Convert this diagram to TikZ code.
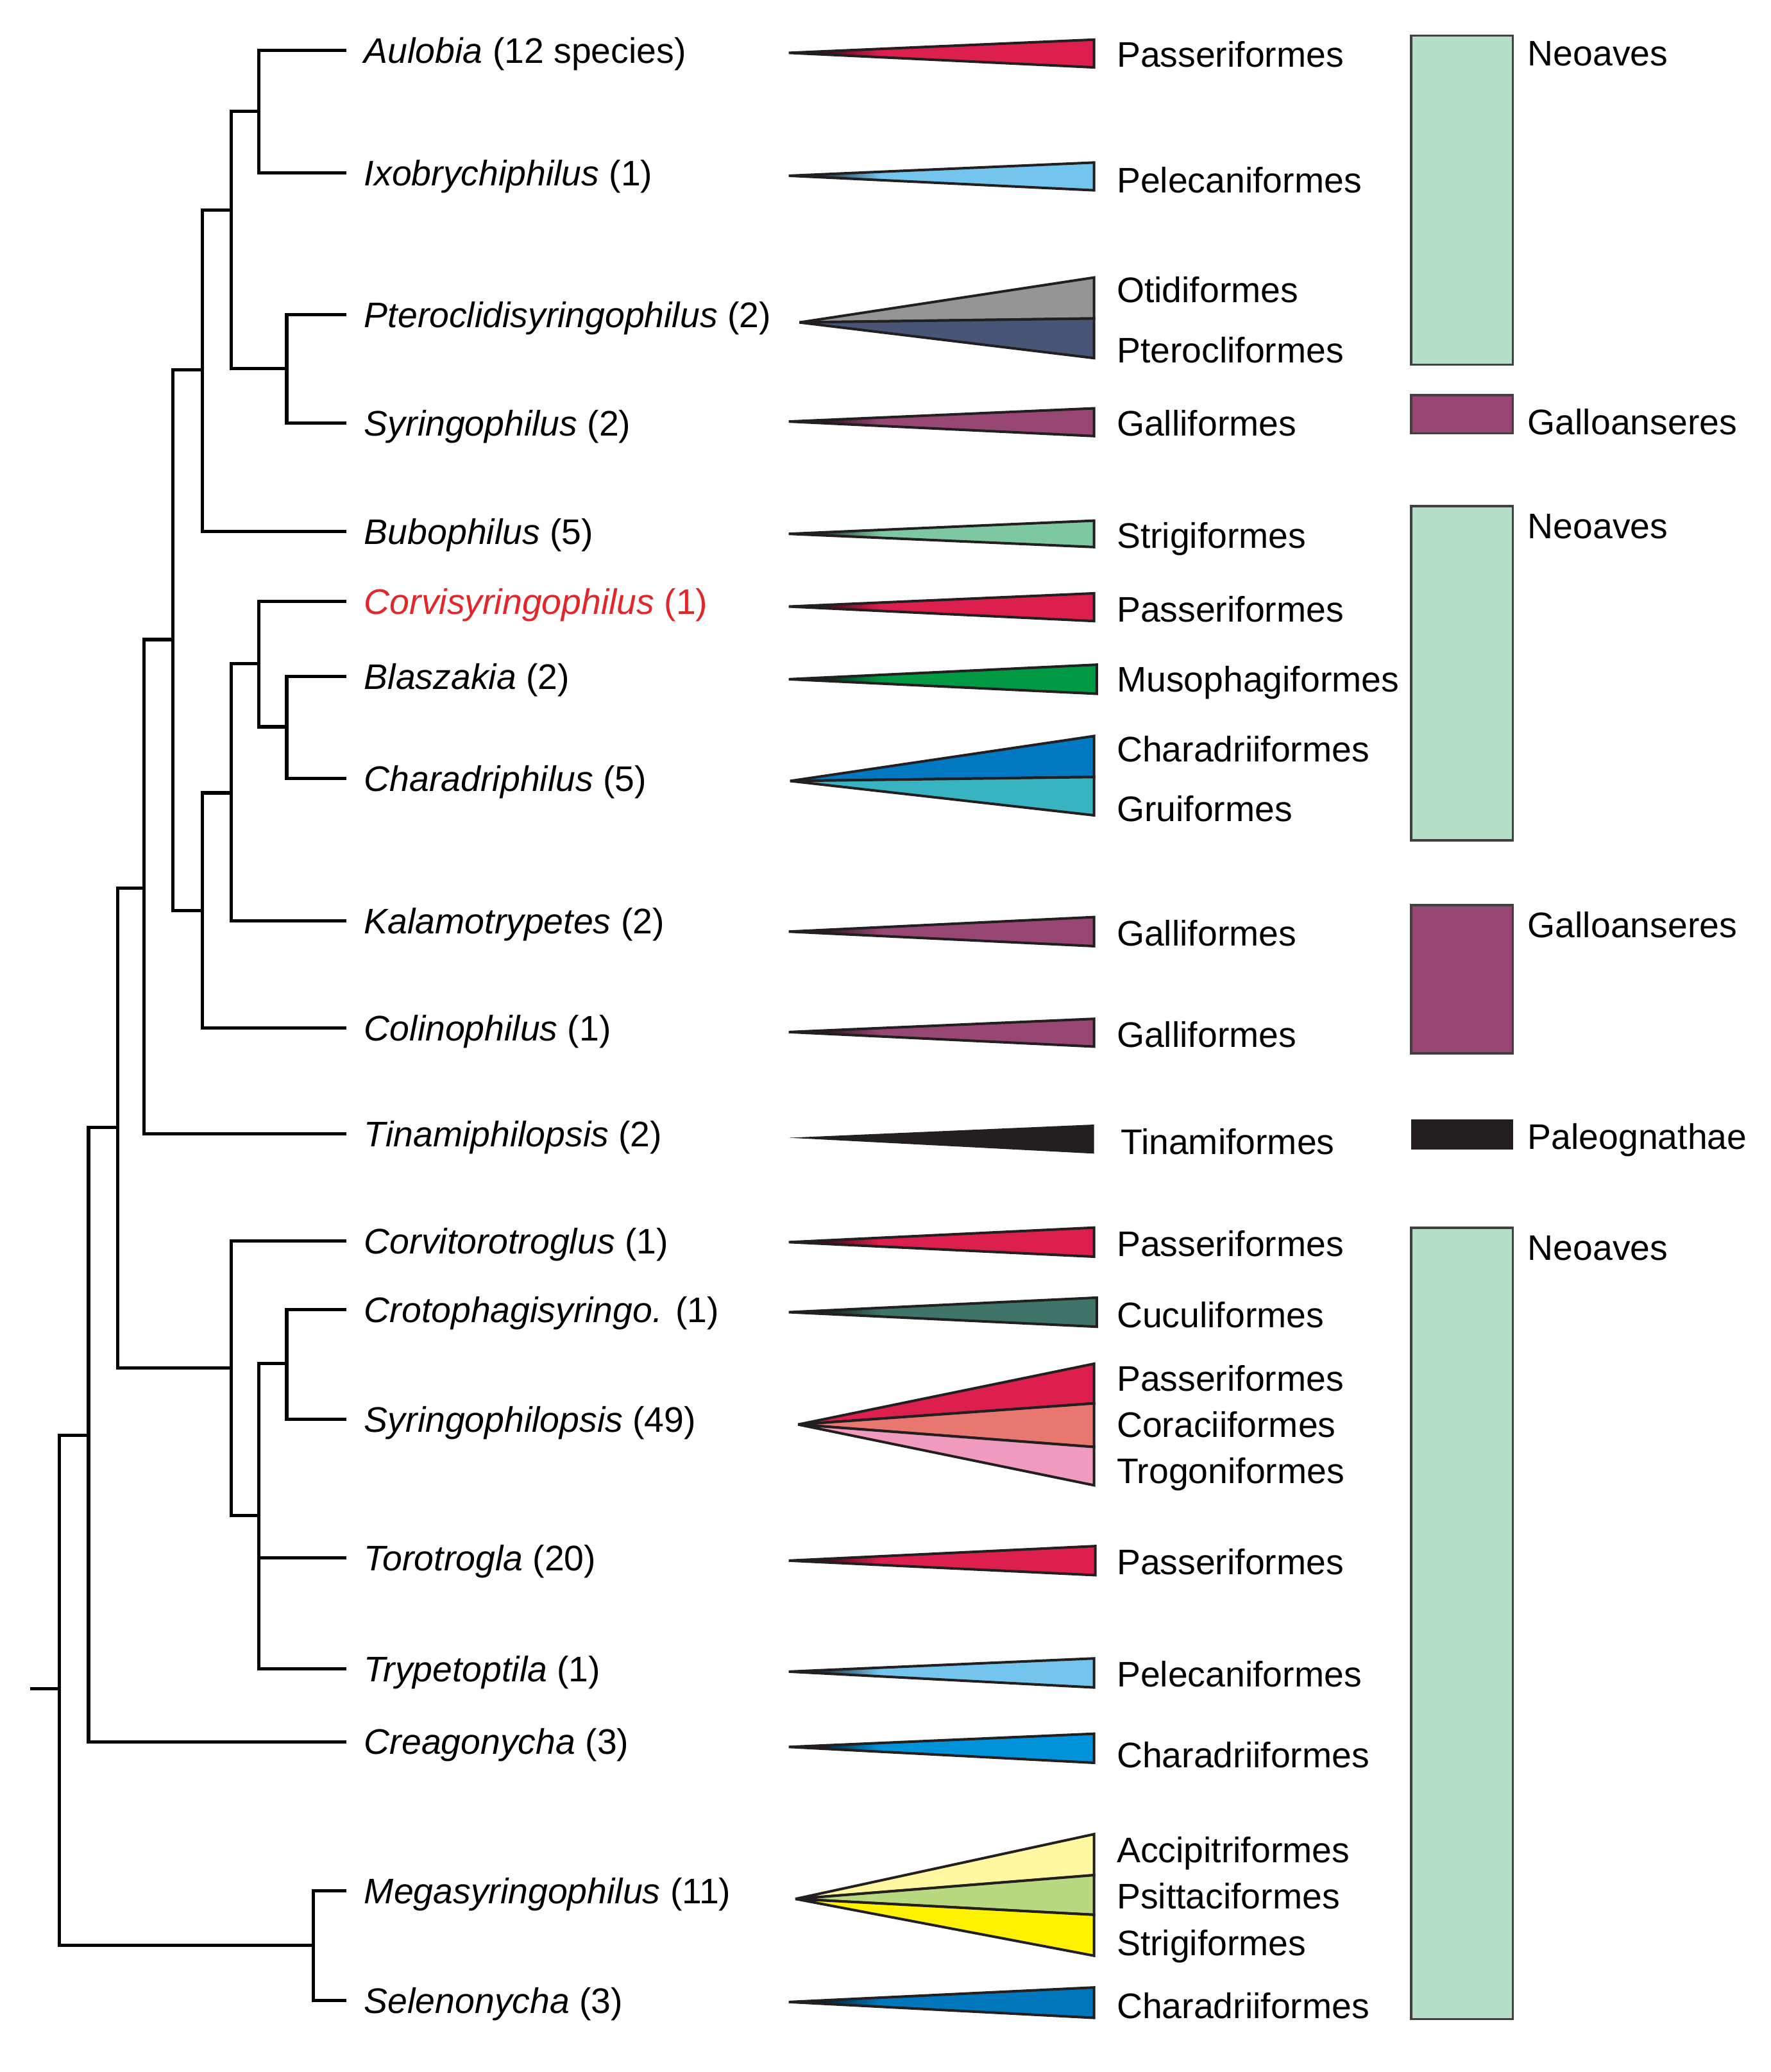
\documentclass[tikz,border=0pt]{standalone}
\usepackage{fontspec}
\setmainfont{Liberation Sans}
\usepackage{xcolor}

\definecolor{passer}{HTML}{DC1F4C}
\definecolor{pelec}{HTML}{73C5EE}
\definecolor{otid}{HTML}{959595}
\definecolor{pterocl}{HTML}{475676}
\definecolor{galli}{HTML}{984674}
\definecolor{strigi}{HTML}{7DC8A0}
\definecolor{musoph}{HTML}{009944}
\definecolor{charA}{HTML}{0079C2}
\definecolor{grui}{HTML}{38B3C2}
\definecolor{tinam}{HTML}{231F20}
\definecolor{cucul}{HTML}{3F7468}
\definecolor{coraci}{HTML}{E8776F}
\definecolor{trogon}{HTML}{F09BBE}
\definecolor{charB}{HTML}{0093D9}
\definecolor{accip}{HTML}{FFF8A0}
\definecolor{psitt}{HTML}{B8D97F}
\definecolor{strigB}{HTML}{FFF200}
\definecolor{charC}{HTML}{0077BD}
\definecolor{neoaves}{HTML}{B5DDC7}
\definecolor{wedgeline}{HTML}{231F20}
\definecolor{mitered}{HTML}{E3262A}

\colorlet{wcol}{black}
\pgfdeclarehorizontalshading[wcol]{wedgefade}{100bp}{color(0bp)=(black); color(27bp)=(black); color(40bp)=(wcol); color(100bp)=(wcol)}

\begin{document}
\begin{tikzpicture}[x=0.02cm, y=-0.02cm,
  branch/.style={line width=1.4pt},
  wc/.code={\colorlet{wcol}{#1}},
  fade/.style={draw=wedgeline, line width=1.1pt, shading=wedgefade, wc=#1},
  seg/.style={draw=wedgeline, line width=1.1pt},
  cladebox/.style={draw=black!75, line width=1pt},
  lbl/.style={anchor=west, font=\fontsize{15.3}{18}\selectfont, text height=11pt, text depth=0pt},
  genus/.style={lbl, inner xsep=7.6pt}]

  \useasboundingbox (0,0) rectangle (1340,1568);

  % genus names at the tips
  \node[genus] (aul) at (262,38) {\textit{Aulobia} (12 species)};
  \node[genus] (ixo) at (262,131) {\textit{Ixobrychiphilus} (1)};
  \node[genus] (pte) at (262,238) {\textit{Pteroclidisyringophilus} (2)};
  \node[genus] (syr) at (262,320) {\textit{Syringophilus} (2)};
  \node[genus] (bub) at (262,402) {\textit{Bubophilus} (5)};
  \node[genus, text=mitered] (cor) at (262,455) {\textit{Corvisyringophilus} (1)};
  \node[genus] (bla) at (262,512) {\textit{Blaszakia} (2)};
  \node[genus] (cha) at (262,589) {\textit{Charadriphilus} (5)};
  \node[genus] (kal) at (262,697) {\textit{Kalamotrypetes} (2)};
  \node[genus] (col) at (262,778) {\textit{Colinophilus} (1)};
  \node[genus] (tin) at (262,858) {\textit{Tinamiphilopsis} (2)};
  \node[genus] (cvt) at (262,939) {\textit{Corvitorotroglus} (1)};
  \node[genus] (cro) at (262,991) {\textit{Crotophagisyringo.} (1)};
  \node[genus] (sph) at (262,1074) {\textit{Syringophilopsis} (49)};
  \node[genus] (tor) at (262,1179) {\textit{Torotrogla} (20)};
  \node[genus] (try) at (262,1263) {\textit{Trypetoptila} (1)};
  \node[genus] (cre) at (262,1318) {\textit{Creagonycha} (3)};
  \node[genus] (meg) at (262,1431) {\textit{Megasyringophilus} (11)};
  \node[genus] (sel) at (262,1514) {\textit{Selenonycha} (3)};

  % inner nodes of the tree
  \coordinate (n1) at (196,84);
  \coordinate (n2) at (217,279);
  \coordinate (n3) at (175,159);
  \coordinate (n4) at (153,280);
  \coordinate (n5) at (217,550);
  \coordinate (n6) at (196,502);
  \coordinate (n7) at (175,600);
  \coordinate (n8) at (153,689);
  \coordinate (n9) at (131,484);
  \coordinate (n10) at (109,672);
  \coordinate (n11) at (217,1032);
  \coordinate (n12) at (196,1147);
  \coordinate (n13) at (175,1035);
  \coordinate (n14) at (89,853);
  \coordinate (n15) at (67,1086);
  \coordinate (n16) at (237,1472);
  \coordinate (n17) at (45,1278);
  \coordinate (root) at (23,1278);

  % branches
  \draw[branch] (aul.west) -| (n1) |- (ixo.west);
  \draw[branch] (pte.west) -| (n2) |- (syr.west);
  \draw[branch] (n1) -| (n3) |- (n2);
  \draw[branch] (n3) -| (n4) |- (bub.west);
  \draw[branch] (bla.west) -| (n5) |- (cha.west);
  \draw[branch] (cor.west) -| (n6) |- (n5);
  \draw[branch] (n6) -| (n7) |- (kal.west);
  \draw[branch] (n7) -| (n8) |- (col.west);
  \draw[branch] (n4) -| (n9) |- (n8);
  \draw[branch] (n9) -| (n10) |- (tin.west);
  \draw[branch] (cro.west) -| (n11) |- (sph.west);
  \draw[branch] (n11) -| (n12) |- (try.west);
  \draw[branch] (n12 |- tor.west) -- (tor.west);
  \draw[branch] (cvt.west) -| (n13) |- (n12);
  \draw[branch] (n10) -| (n14) |- (n13);
  \draw[branch] (n14) -| (n15) |- (cre.west);
  \draw[branch] (meg.west) -| (n16) |- (sel.west);
  \draw[branch] (n15) -| (n17) |- (n16);
  \draw[branch] (root) -- (n17);

  % host wedges
  \shade[fade=passer] (597,40) -- (828,30) -- (828,51) -- cycle;
  \shade[fade=pelec] (597,133) -- (828,123) -- (828,144) -- cycle;
  \filldraw[seg, fill=otid] (605,244) -- (828,210) -- (828,241) -- cycle;
  \filldraw[seg, fill=pterocl] (605,244) -- (828,241) -- (828,271) -- cycle;
  \shade[fade=galli] (597,319) -- (828,309) -- (828,330) -- cycle;
  \shade[fade=strigi] (597,404) -- (828,394) -- (828,414) -- cycle;
  \shade[fade=passer] (597,459) -- (828,449) -- (828,470) -- cycle;
  \shade[fade=musoph] (597,514) -- (830,503) -- (830,525) -- cycle;
  \filldraw[seg, fill=charA] (598,591) -- (828,557) -- (828,588) -- cycle;
  \filldraw[seg, fill=grui] (598,591) -- (828,588) -- (828,617) -- cycle;
  \shade[fade=galli] (597,705) -- (828,694) -- (828,716) -- cycle;
  \shade[fade=galli] (597,781) -- (828,771) -- (828,792) -- cycle;
  \fill[tinam] (597,861) -- (828,851) -- (828,873) -- cycle;
  \shade[fade=passer] (597,940) -- (828,929) -- (828,951) -- cycle;
  \shade[fade=cucul] (597,993) -- (830,982) -- (830,1004) -- cycle;
  \filldraw[seg, fill=passer] (604,1078) -- (828,1032) -- (828,1062) -- cycle;
  \filldraw[seg, fill=coraci] (604,1078) -- (828,1062) -- (828,1095) -- cycle;
  \filldraw[seg, fill=trogon] (604,1078) -- (828,1095) -- (828,1124) -- cycle;
  \shade[fade=passer] (597,1181) -- (829,1170) -- (829,1192) -- cycle;
  \shade[fade=pelec] (597,1265) -- (828,1255) -- (828,1277) -- cycle;
  \shade[fade=charB] (597,1322) -- (828,1312) -- (828,1334) -- cycle;
  \filldraw[seg, fill=accip] (602,1437) -- (828,1388) -- (828,1419) -- cycle;
  \filldraw[seg, fill=psitt] (602,1437) -- (828,1419) -- (828,1449) -- cycle;
  \filldraw[seg, fill=strigB] (602,1437) -- (828,1449) -- (828,1480) -- cycle;
  \shade[fade=charC] (597,1515) -- (828,1504) -- (828,1527) -- cycle;

  % host orders
  \node[lbl] (pas1) at (839,41) {Passeriformes};
  \node[lbl] (pel1) at (839,136) {Pelecaniformes};
  \node[lbl] (otd) at (839,219) {Otidiformes};
  \node[lbl] (ptc) at (839,265) {Pterocliformes};
  \node[lbl] (gal1) at (839,320) {Galliformes};
  \node[lbl] (str1) at (839,405) {Strigiformes};
  \node[lbl] (pas2) at (839,461) {Passeriformes};
  \node[lbl] (mus) at (839,514) {Musophagiformes};
  \node[lbl] (chr1) at (839,567) {Charadriiformes};
  \node[lbl] (gru) at (839,612) {Gruiformes};
  \node[lbl] (gal2) at (839,706) {Galliformes};
  \node[lbl] (gal3) at (839,783) {Galliformes};
  \node[lbl] (tnm) at (842,864) {Tinamiformes};
  \node[lbl] (pas3) at (839,941) {Passeriformes};
  \node[lbl] (cuc) at (839,995) {Cuculiformes};
  \node[lbl] (pas4) at (839,1043) {Passeriformes};
  \node[lbl] (crc) at (839,1078) {Coraciiformes};
  \node[lbl] (trg) at (839,1113) {Trogoniformes};
  \node[lbl] (pas5) at (839,1182) {Passeriformes};
  \node[lbl] (pel2) at (839,1267) {Pelecaniformes};
  \node[lbl] (chr2) at (839,1328) {Charadriiformes};
  \node[lbl] (acc) at (839,1400) {Accipitriformes};
  \node[lbl] (psi) at (839,1435) {Psittaciformes};
  \node[lbl] (str2) at (839,1470) {Strigiformes};
  \node[lbl] (chr3) at (839,1518) {Charadriiformes};

  % higher groups
  \draw[cladebox, fill=neoaves] (1068,27) rectangle (1145,276);
  \draw[cladebox, fill=galli] (1068,299) rectangle (1145,328);
  \draw[cladebox, fill=neoaves] (1068,383) rectangle (1145,636);
  \draw[cladebox, fill=galli] (1068,685) rectangle (1145,797);
  \fill[tinam] (1068,847) rectangle (1145,870);
  \draw[cladebox, fill=neoaves] (1068,929) rectangle (1145,1528);

  \node[lbl] (neo1) at (1150,40) {Neoaves};
  \node[lbl] (gal-a) at (1150,319) {Galloanseres};
  \node[lbl] (neo2) at (1150,398) {Neoaves};
  \node[lbl] (gal-b) at (1150,700) {Galloanseres};
  \node[lbl] (paleo) at (1150,860) {Paleognathae};
  \node[lbl] (neo3) at (1150,944) {Neoaves};
\end{tikzpicture}
\end{document}
